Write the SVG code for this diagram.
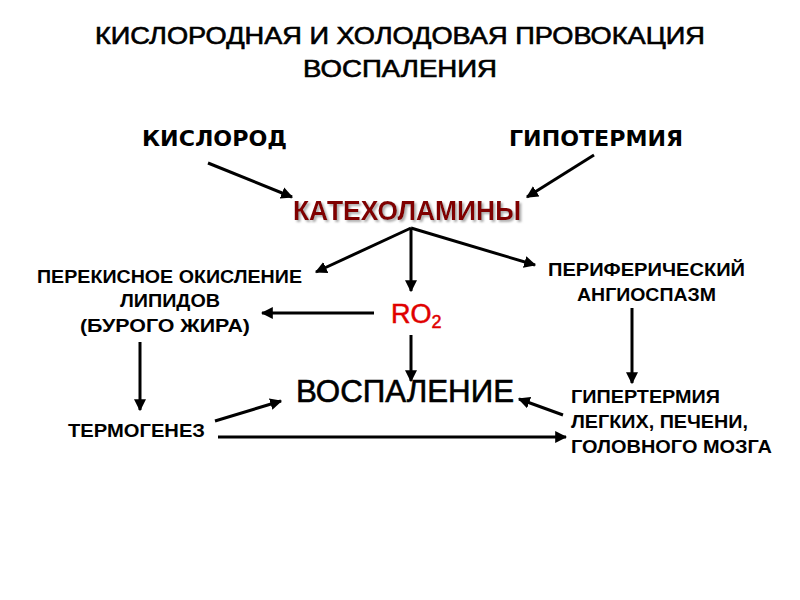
<svg xmlns="http://www.w3.org/2000/svg" width="800" height="600" viewBox="0 0 800 600">
<defs>
<marker id="ah" viewBox="0 0 10 10" refX="9" refY="5" markerWidth="4" markerHeight="4" orient="auto" markerUnits="strokeWidth">
<path d="M0,0 L10,5 L0,10 z" fill="#000"/>
</marker>
<filter id="sh" x="-10%" y="-30%" width="120%" height="160%">
<feDropShadow dx="2" dy="2" stdDeviation="1" flood-color="#999" flood-opacity="0.8"/>
</filter>
<style>
.t{font-family:"Liberation Sans",Arial,sans-serif;fill:#000}
.b{font-weight:bold}
.dv{font-family:"DejaVu Sans",Verdana,sans-serif;font-weight:bold;fill:#000}
.c{stroke:#000;stroke-width:3;fill:none;marker-end:url(#ah)}
</style>
</defs>
<rect width="800" height="600" fill="#fff"/>
<g id="title">
<text class="t" x="95" y="44" font-size="23" textLength="610" lengthAdjust="spacingAndGlyphs" stroke="#000" stroke-width="0.6">КИСЛОРОДНАЯ И ХОЛОДОВАЯ ПРОВОКАЦИЯ</text>
<text class="t" x="303" y="77" font-size="23" textLength="194" lengthAdjust="spacingAndGlyphs" stroke="#000" stroke-width="0.6">ВОСПАЛЕНИЯ</text>
</g>
<g id="oxygen"><text class="dv" x="142" y="146" font-size="21" textLength="145" lengthAdjust="spacingAndGlyphs">КИСЛОРОД</text></g>
<g id="hypothermia"><text class="dv" x="509" y="146" font-size="21" textLength="174" lengthAdjust="spacingAndGlyphs">ГИПОТЕРМИЯ</text></g>
<g id="catecholamines">
<text class="t b" x="293" y="220" font-size="27" textLength="228" lengthAdjust="spacingAndGlyphs" filter="url(#sh)" style="fill:#800000">КАТЕХОЛАМИНЫ</text>
</g>
<g id="lipid">
<text class="t b" x="37" y="283" font-size="18" textLength="265" lengthAdjust="spacingAndGlyphs">ПЕРЕКИСНОЕ ОКИСЛЕНИЕ</text>
<text class="t b" x="120" y="307" font-size="18" textLength="100" lengthAdjust="spacingAndGlyphs">ЛИПИДОВ</text>
<text class="t b" x="80" y="332" font-size="18" textLength="170" lengthAdjust="spacingAndGlyphs">(БУРОГО ЖИРА)</text>
</g>
<g id="ro2">
<text class="t" x="391" y="323" font-size="27" stroke="#e00000" stroke-width="0.5" style="fill:#e00000">RO<tspan font-size="18" dy="5">2</tspan></text>
</g>
<g id="angiospasm">
<text class="t b" x="548" y="276" font-size="18" textLength="197" lengthAdjust="spacingAndGlyphs">ПЕРИФЕРИЧЕСКИЙ</text>
<text class="t b" x="577" y="301" font-size="18" textLength="139" lengthAdjust="spacingAndGlyphs">АНГИОСПАЗМ</text>
</g>
<g id="inflammation"><text class="t" x="296" y="402" font-size="31" textLength="218" lengthAdjust="spacingAndGlyphs" stroke="#000" stroke-width="0.6">ВОСПАЛЕНИЕ</text></g>
<g id="thermogenesis"><text class="t b" x="68" y="437" font-size="18" textLength="137" lengthAdjust="spacingAndGlyphs">ТЕРМОГЕНЕЗ</text></g>
<g id="hyperthermia">
<text class="t b" x="571" y="403" font-size="18" textLength="149" lengthAdjust="spacingAndGlyphs">ГИПЕРТЕРМИЯ</text>
<text class="t b" x="571" y="428" font-size="18" textLength="177" lengthAdjust="spacingAndGlyphs">ЛЕГКИХ, ПЕЧЕНИ,</text>
<text class="t b" x="571" y="453" font-size="18" textLength="201" lengthAdjust="spacingAndGlyphs">ГОЛОВНОГО МОЗГА</text>
</g>
<g id="connectors">
<line class="c" x1="208" y1="163" x2="292" y2="197"/>
<line class="c" x1="594" y1="155" x2="527" y2="197"/>
<line class="c" x1="411" y1="228" x2="316" y2="272"/>
<line class="c" x1="411" y1="228" x2="411" y2="291"/>
<line class="c" x1="411" y1="228" x2="535" y2="265"/>
<line class="c" x1="374" y1="313" x2="262" y2="313"/>
<line class="c" x1="411" y1="335" x2="411" y2="381"/>
<line class="c" x1="140" y1="342" x2="140" y2="410"/>
<line class="c" x1="632" y1="308" x2="632" y2="383"/>
<line class="c" x1="215" y1="421" x2="281" y2="401"/>
<line class="c" x1="563" y1="415" x2="519" y2="399"/>
<line class="c" x1="218" y1="437" x2="566" y2="437"/>
</g>
</svg>
